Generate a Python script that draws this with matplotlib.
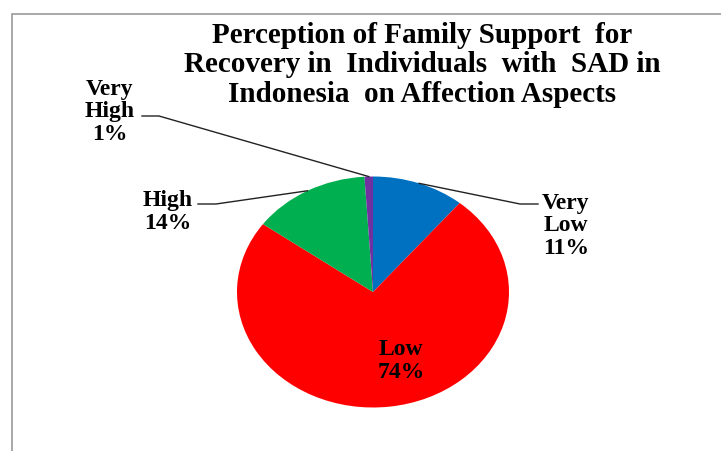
import numpy as np
import matplotlib
matplotlib.use('Agg')
import matplotlib.pyplot as plt
from matplotlib.lines import Line2D
from matplotlib.patches import Rectangle

# ========== data ==========
categories = ['Very\nLow', 'Low', 'High', 'Very\nHigh']
shares = [11, 74, 14, 1]
colours = ['#0070C0', '#FF0000', '#00B050', '#7030A0']
title = ('Perception of Family Support  for\n'
         'Recovery in  Individuals  with  SAD in\n'
         'Indonesia  on Affection Aspects')

W, H = 721, 452
fig = plt.figure(figsize=(W / 100, H / 100), dpi=100)


def fpx(x, y):
    """Pixel (from top-left) to figure fraction."""
    return x / W, 1 - y / H


# pie is slightly wider than tall in the reference
cx, cy, rx, ry = 373, 293, 136, 115.5
ax = fig.add_axes([(cx - rx) / W, (H - cy - ry) / H, 2 * rx / W, 2 * ry / H])
wedges, _ = ax.pie(shares, colors=colours, startangle=90, counterclock=False,
                   radius=1, wedgeprops={'linewidth': 0})
ax.set_aspect('auto')
ax.set_xlim(-1, 1)
ax.set_ylim(-1, 1)
ax.axis('off')

font = {'family': 'Liberation Serif', 'weight': 'bold'}

# frame (only top and left edges visible)
fig.add_artist(Rectangle(fpx(12, 800), 1000 / W, (800 - 15) / H,
                         transform=fig.transFigure, fill=False,
                         edgecolor='#999999', linewidth=1.2))

fig.text(*fpx(422, 65), title, ha='center', va='center', fontsize=21,
         linespacing=1.12, **font)

# label text, position, elbow start (pixels from top-left)
labels = [f'{c}\n{s}%' for c, s in zip(categories, shares)]
label_pos = [(566, 226), (401, 361), (168, 212), (110, 112)]
elbows = [((538, 205), (520, 205)), None,
          ((198, 205), (216, 205)), ((142, 117), (159, 117))]

angles = 90 - (np.cumsum(shares) - np.array(shares) / 2) * 3.6
for lab, pos, elb, ang in zip(labels, label_pos, elbows, angles):
    fig.text(*fpx(*pos), lab, ha='center', va='center', fontsize=17,
             linespacing=1.1, **font)
    if elb is None:
        continue
    a = np.deg2rad(ang)
    px = cx + rx * np.cos(a)
    py = cy - ry * np.sin(a)
    pts = [elb[0], elb[1], (px, py)]
    xs = [fpx(*p)[0] for p in pts]
    ys = [fpx(*p)[1] for p in pts]
    fig.add_artist(Line2D(xs, ys, transform=fig.transFigure, color='#222222',
                          linewidth=1.0))

fig.savefig('out.png', dpi=100)
